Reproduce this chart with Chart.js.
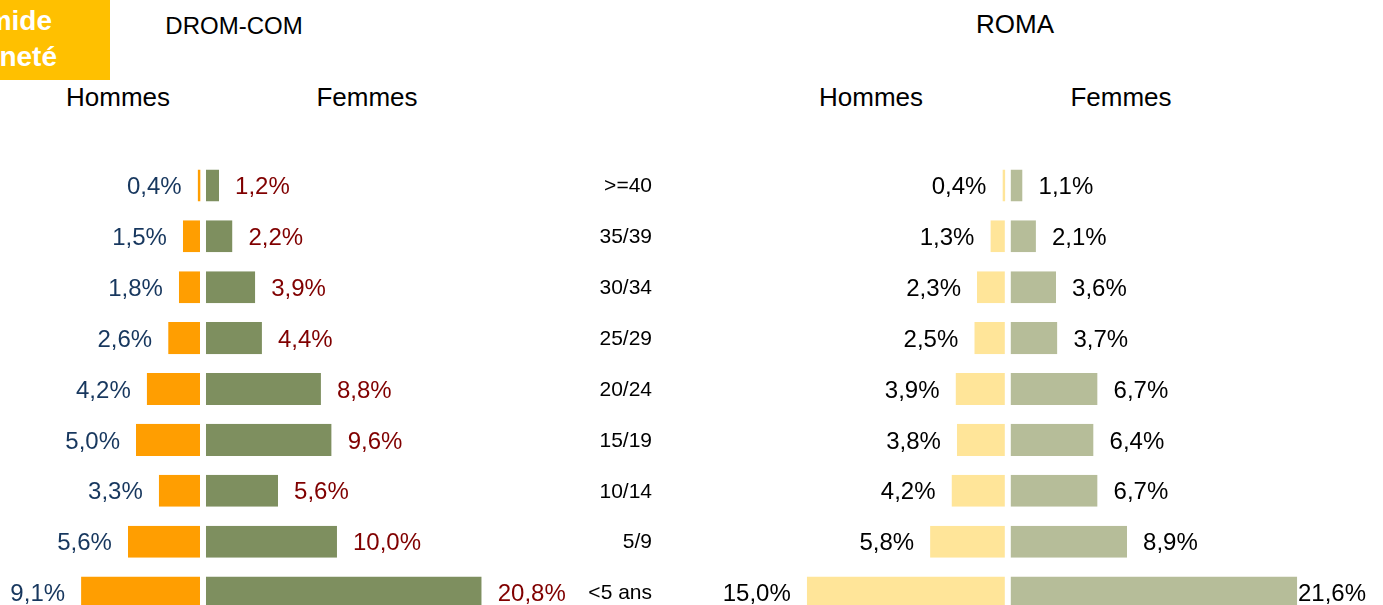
<!DOCTYPE html>
<html lang="fr">
<head>
<meta charset="utf-8">
<script src="https://cdn.jsdelivr.net/npm/chart.js@4/dist/chart.umd.min.js"></script>
<style>
  body { margin: 0; width: 1383px; height: 605px; overflow: hidden; background: #fff; position: relative;
         font-family: "Liberation Sans", Arial, sans-serif; }
  .head { position: absolute; transform: translate(-50%, -50%); white-space: nowrap; color: #000; }
  .tag { position: absolute; left: 0; top: 0; width: 110px; height: 80px; background: #FFC000; overflow: hidden; }
  .tag div { position: absolute; text-align: right; color: #fff; font-weight: bold; font-size: 28px;
             line-height: 32px; white-space: nowrap; }
  canvas { position: absolute; }
</style>
</head>
<body>
<div class="tag">
  <div style="left:-300px; width:352px; top:5px;">Pyramide</div>
  <div style="left:-300px; width:357px; top:41px;">ancienneté</div>
</div>
<div class="head" style="left:234px; top:26px; font-size:24px;">DROM-COM</div>
<div class="head" style="left:1015px; top:24px; font-size:26px;">ROMA</div>
<div class="head" style="left:118px; top:97px; font-size:26px;">Hommes</div>
<div class="head" style="left:367px; top:97px; font-size:26px;">Femmes</div>
<div class="head" style="left:871px; top:97px; font-size:26px;">Hommes</div>
<div class="head" style="left:1121px; top:97px; font-size:26px;">Femmes</div>

<canvas id="drom" width="680" height="458" style="left:0px; top:160px;"></canvas>
<canvas id="roma" width="670" height="458" style="left:713px; top:160px;"></canvas>

<script>
// tranches d'âge (haut -> bas)
const ageGroups = ['>=40', '35/39', '30/34', '25/29', '20/24', '15/19', '10/14', '5/9', '<5 ans'];

// DROM-COM (%)
const dromHommes = [0.4, 1.5, 1.8, 2.6, 4.2, 5.0, 3.3, 5.6, 9.1];
const dromFemmes = [1.2, 2.2, 3.9, 4.4, 8.8, 9.6, 5.6, 10.0, 20.8];

// ROMA (%)
const romaHommes = [0.4, 1.3, 2.3, 2.5, 3.9, 3.8, 4.2, 5.8, 15.0];
const romaFemmes = [1.1, 2.1, 3.6, 3.7, 6.7, 6.4, 6.7, 8.9, 21.6];

const FONT = '"Liberation Sans", Arial, sans-serif';

// étiquettes de valeur + colonne des âges
const pyramidLabels = {
    id: 'pyramidLabels',
    afterDatasetsDraw(chart, args, opts) {
        const ctx = chart.ctx;
        const area = chart.chartArea;
        ctx.save();
        ctx.textBaseline = 'middle';
        ctx.textAlign = 'left';
        ctx.font = '24px ' + FONT;
        chart.data.datasets.forEach((ds, di) => {
            const meta = chart.getDatasetMeta(di);
            meta.data.forEach((bar, i) => {
                const v = ds.data[i];
                const text = Math.abs(v).toFixed(1).replace('.', ',') + '%';
                const w = ctx.measureText(text).width;
                let x;
                if (v < 0) {
                    x = Math.max(bar.x - opts.gap - w, area.left + 2);
                } else {
                    x = Math.min(bar.x + opts.gap, area.right - opts.edge - w);
                }
                ctx.fillStyle = opts.colors[di];
                ctx.fillText(text, x, bar.y + 2);
            });
        });
        if (opts.ageX) {
            const y = chart.scales.y;
            ctx.font = '21px ' + FONT;
            ctx.textAlign = 'right';
            ctx.fillStyle = '#000';
            chart.data.labels.forEach((lab, i) => {
                ctx.fillText(lab, opts.ageX, y.getPixelForValue(i) + 1);
            });
        }
        ctx.restore();
    }
};

function createPyramid({ id, hommes, femmes, colors, labelColors, min, max, ageX }) {
    const ctx = document.getElementById(id).getContext('2d');
    new Chart(ctx, {
        type: 'bar',
        data: {
            labels: ageGroups,
            datasets: [
                {
                    label: 'Hommes',
                    data: hommes.map(v => -v),
                    backgroundColor: colors[0],
                    borderColor: '#fff',
                    borderWidth: { right: 3 },
                    borderSkipped: false,
                },
                {
                    label: 'Femmes',
                    data: femmes,
                    backgroundColor: colors[1],
                    borderColor: '#fff',
                    borderWidth: { left: 3 },
                    borderSkipped: false,
                },
            ],
        },
        options: {
            indexAxis: 'y',
            responsive: false,
            animation: false,
            layout: { padding: 0 },
            datasets: {
                bar: { categoryPercentage: 1, barPercentage: 0.63 },
            },
            plugins: {
                legend: { display: false },
                tooltip: { enabled: false },
                pyramidLabels: { colors: labelColors, gap: 16, edge: 17, ageX: ageX },
            },
            scales: {
                x: { type: 'linear', min: min, max: max, stacked: true, display: false },
                y: { stacked: true, display: false },
            },
        },
        plugins: [pyramidLabels],
    });
}

createPyramid({
    id: 'drom',
    hommes: dromHommes,
    femmes: dromFemmes,
    colors: ['#FF9E01', '#7E8F5F'],
    labelColors: ['#17375E', '#800000'],
    min: -15.15,
    max: 35.6,
    ageX: 652,
});

createPyramid({
    id: 'roma',
    hommes: romaHommes,
    femmes: romaFemmes,
    colors: ['#FFE599', '#B6BD99'],
    labelColors: ['#000', '#000'],
    min: -22,
    max: 28,
    ageX: null,
});
</script>
</body>
</html>
